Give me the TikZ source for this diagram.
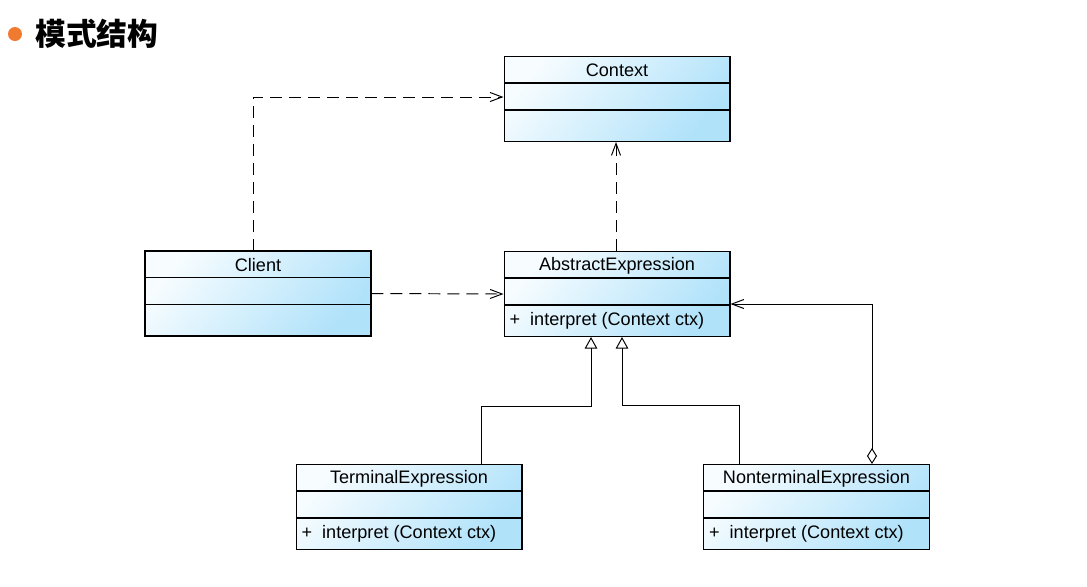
\documentclass[tikz,border=0pt]{standalone}
\usepackage{fontspec}
\setmainfont{Liberation Sans}
\newfontfamily\cjk{Noto Sans CJK SC}
\usetikzlibrary{arrows.meta,positioning}

\definecolor{boxlight}{HTML}{F6FCFF}
\definecolor{boxblue}{HTML}{B0E2FA}
\definecolor{dotorange}{HTML}{F07A30}

\tikzset{
  classbox/.style={draw, line width=0.6pt, minimum width=4.52cm, minimum height=1.7cm,
    inner sep=0pt, top color=boxlight, bottom color=boxblue, shading angle=50},
  classsep/.style={line width=0.6pt},
  classtext/.style={font=\fontsize{10.3}{12}\selectfont, inner sep=1pt},
  dep/.style={line width=0.55pt, dash pattern=on 6.8pt off 4pt,
    -{Straight Barb[length=2.4mm,width=1.8mm]}},
  gen/.style={line width=0.55pt, -{Triangle[open,length=2.3mm,width=2.5mm]}},
  agg/.style={line width=0.55pt,
    {Diamond[open,length=3.2mm,width=2mm]}-{Straight Barb[length=2.4mm,width=1.8mm]}}
}

% class box: name, centre, title, operation
\newcommand{\umlclass}[4]{
  \node[classbox] (#1) at (#2) {};
  \draw[classsep] ([yshift=-0.54cm]#1.north west) -- ([yshift=-0.54cm]#1.north east);
  \draw[classsep] ([yshift=-1.08cm]#1.north west) -- ([yshift=-1.08cm]#1.north east);
  \node[classtext] (#1-name) at ([yshift=-0.29cm]#1.north) {#3};
  \node[classtext, anchor=west] (#1-op) at ([xshift=0.08cm,yshift=-1.39cm]#1.north west) {#4};
}

\begin{document}
\begin{tikzpicture}[x=0.02cm, y=-0.02cm]
    \useasboundingbox (0,0) rectangle (1087,586);

    % heading
    \node[circle, fill=dotorange, minimum size=0.28cm, inner sep=0pt] (dot) at (15,34) {};
    \node[anchor=west, inner sep=0pt, font=\cjk\bfseries\fontsize{17.5}{20}\selectfont] (heading) at (35,34) {模式结构};

    % classes
    \umlclass{ctx}{617,99}{Context}{}
    \umlclass{client}{258,293.5}{Client}{}
    \umlclass{absexp}{617,294}{AbstractExpression}{+~ interpret (Context ctx)}
    \umlclass{termexp}{409,507}{TerminalExpression}{+~ interpret (Context ctx)}
    \umlclass{ntermexp}{816.5,507}{NonterminalExpression}{+~ interpret (Context ctx)}

    % dependencies
    \draw[dep] ([xshift=-0.1cm]client.north) |- ([yshift=0.04cm]ctx.west);
    \draw[dep] ([xshift=-0.02cm]absexp.north) -- ([xshift=-0.02cm]ctx.south);
    \draw[dep] (client.east) -- (absexp.west);

    % generalisations
    \draw[gen] ([xshift=1.44cm]termexp.north) -- ++(0,1.16cm) -| ([xshift=-0.52cm]absexp.south);
    \draw[gen] ([xshift=-1.55cm]ntermexp.north) -- ++(0,1.18cm) -| ([xshift=0.1cm]absexp.south);

    % aggregation
    \draw[agg] ([xshift=1.11cm]ntermexp.north) |- ([yshift=-0.2cm]absexp.east);
\end{tikzpicture}
\end{document}
